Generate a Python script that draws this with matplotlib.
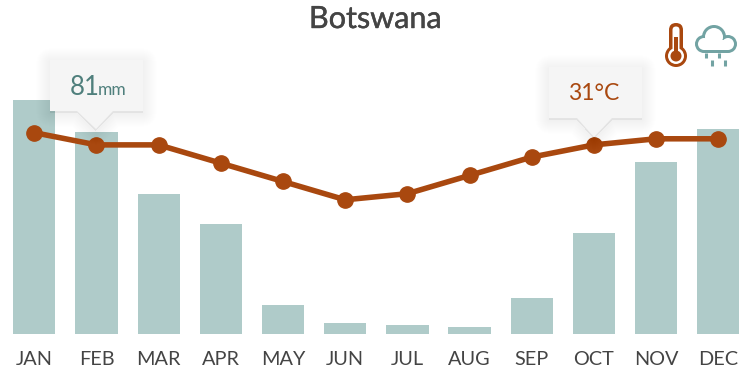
import matplotlib
matplotlib.use("Agg")
import matplotlib.pyplot as plt
import matplotlib.patheffects as pe
from matplotlib.patches import Circle, FancyBboxPatch, Polygon, Rectangle

plt.rcParams['font.family'] = ['Lato', 'DejaVu Sans']

months = ['JAN', 'FEB', 'MAR', 'APR', 'MAY', 'JUN', 'JUL', 'AUG', 'SEP', 'OCT', 'NOV', 'DEC']
rain_mm = [94, 81, 56, 44, 11.5, 4.5, 3.5, 2.8, 14.5, 40.5, 69, 82]
temp_c = [33, 31, 31, 28, 25, 22, 23, 26, 29, 31, 32, 32]

bar_col = '#afcbc9'
line_col = '#a9480f'
teal = '#4f7f7c'
cloud_col = '#72a3a3'
text_col = '#444444'
tip_col = '#f5f5f5'

W, H = 750, 373
fig = plt.figure(figsize=(W / 100, H / 100), dpi=100)

# axes run from the picture's top edge down to the bar baseline
ax = fig.add_axes([0, (H - 334) / H, 1, 334 / H])
ax.bar(range(12), rain_mm, width=0.68, color=bar_col)
ax.set_xlim(-34.3 / 62.18, (W - 34.3) / 62.18)
ax.set_ylim(0, 133.9)
ax.set_yticks([])
ax.set_xticks(range(12))
ax.set_xticklabels(months, fontsize=14.3, color=text_col)
ax.tick_params(axis='x', length=0, pad=12)
for s in ax.spines.values():
    s.set_visible(False)

ax2 = ax.twinx()
ax2.plot(range(12), temp_c, color=line_col, lw=4, marker='o', ms=11, zorder=3)
ax2.set_ylim(0, 54.75)
ax2.set_yticks([])
for s in ax2.spines.values():
    s.set_visible(False)

# overlay in pixel coords for tooltips, icons, title
ov = fig.add_axes([0, 0, 1, 1], facecolor='none')
ov.set_xlim(0, W)
ov.set_ylim(H, 0)
ov.axis('off')


def tooltip(x0, x1, y0, y1, b0, b1, tx, ty):
    pts = [(x0, y0), (x1, y0), (x1, y1), (b1, y1), (tx, ty), (b0, y1), (x0, y1)]
    shadow = [(x, y + 2) for x, y in pts]
    for i in range(14, 0, -1):
        ov.add_patch(Polygon(shadow, closed=True, fc='#000000', ec='#000000', lw=i * 1.4,
                             joinstyle='round', alpha=0.0035))
    ov.add_patch(Polygon(pts, closed=True, fc=tip_col, ec='none', zorder=2))


tooltip(50, 143, 60, 111, 77, 113, 96, 129)
ov.text(70, 95, '81', fontsize=18.5, color=teal, ha='left', va='baseline', zorder=4)
ov.text(98, 95, 'mm', fontsize=12.5, color=teal, ha='left', va='baseline', zorder=4)

tooltip(549, 642, 67, 118, 577, 612, 594, 137)
ov.text(594, 100, '31°C', fontsize=16.5, color=line_col, ha='center', va='baseline', zorder=4)

ov.text(375, 28, 'Botswana', fontsize=22, color=text_col, ha='center', va='baseline',
        path_effects=[pe.withStroke(linewidth=0.3, foreground=text_col)])

# thermometer
ov.add_patch(FancyBboxPatch((669, 23), 14, 33, boxstyle='round,pad=0,rounding_size=7', fc=line_col, ec='none'))
ov.add_patch(Circle((676, 56), 11, fc=line_col, ec='none'))
ov.add_patch(FancyBboxPatch((672.5, 26.5), 7, 30, boxstyle='round,pad=0,rounding_size=3.5', fc='white', ec='none'))
ov.add_patch(Circle((676, 56), 8, fc='white', ec='none'))
ov.add_patch(Rectangle((674, 37), 4, 17, fc=line_col, ec='none'))
ov.add_patch(Circle((676, 56), 5.5, fc=line_col, ec='none'))

# rain cloud
bumps = [(704, 44, 9), (714, 37, 12), (728, 44, 9)]
for cx, cy, r in bumps:
    ov.add_patch(Circle((cx, cy), r, fc=cloud_col, ec='none'))
ov.add_patch(Rectangle((704, 44), 24, 9, fc=cloud_col, ec='none'))
for cx, cy, r in bumps:
    ov.add_patch(Circle((cx, cy), r - 3, fc='white', ec='none'))
ov.add_patch(Rectangle((704, 40), 24, 10, fc='white', ec='none'))
for x, y0, y1 in [(706, 53, 58), (719, 53, 58), (712, 60, 66), (725, 60, 66)]:
    ov.plot([x, x], [y0, y1], color=cloud_col, lw=2.2, solid_capstyle='butt')

fig.savefig('out.png', dpi=100)
